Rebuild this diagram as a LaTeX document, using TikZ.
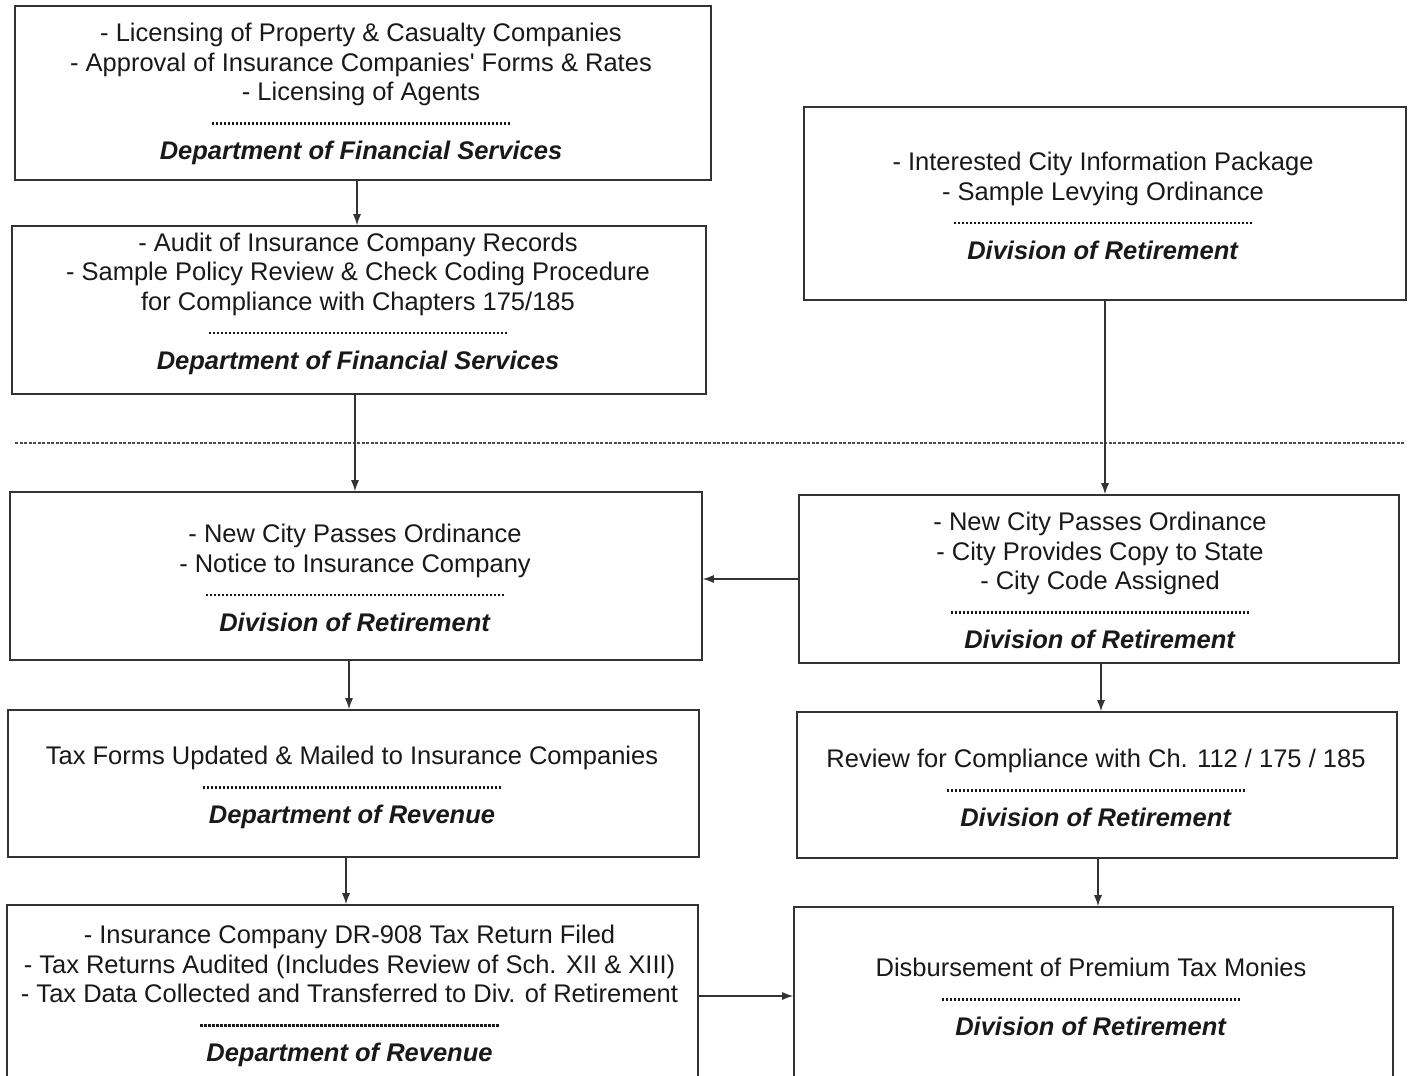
\documentclass[tikz,border=0pt]{standalone}
\usepackage{fontspec}
\setmainfont{Liberation Sans}[Ligatures=TeXOff]
\usetikzlibrary{arrows.meta}
\newcommand\mydashes{\leavevmode\hbox to 300pt{\leaders\hbox to 4pt{\hss\rule[5.5pt]{2.8pt}{2.2pt}\hss}\hfill}}
\newcommand\dept[1]{\textbf{\textit{#1}}}
\tikzset{
  box/.style={draw=black!80, line width=1.6pt, rectangle, inner sep=0pt},
  txt/.style={align=center, inner sep=0pt, text=black!90, font=\fontsize{25.5}{29.5}\selectfont},
  arr/.style={draw=black!80, line width=1.3pt, -{Latex[length=11pt,width=8pt]}},
  sep/.style={draw=black!70, line width=1.3pt, dash pattern=on 3pt off 1.5pt}
}
\begin{document}
\begin{tikzpicture}[x=1pt,y=-1pt]
\clip (0,0) rectangle (1408,1076);
\fill[white] (0,0) rectangle (1408,1076);

% boxes
\node[box, minimum width=696pt, minimum height=174pt] (a) at (363,93) {};
\node[box, minimum width=694pt, minimum height=168pt] (b) at (359,310) {};
\node[box, minimum width=602pt, minimum height=193pt] (c) at (1105,203.5) {};
\node[box, minimum width=692pt, minimum height=168pt] (d) at (356,576) {};
\node[box, minimum width=600pt, minimum height=168pt] (e) at (1099,579) {};
\node[box, minimum width=691pt, minimum height=147pt] (f) at (353.5,783.5) {};
\node[box, minimum width=600pt, minimum height=146pt] (g) at (1097,785) {};
\node[box, minimum width=691pt, minimum height=178pt] (h) at (352.5,994) {};
\node[box, minimum width=599pt, minimum height=176pt] (i) at (1093.5,995) {};

% texts
\node[txt] (at) at (361,94) {- Licensing of Property \& Casualty Companies\\- Approval of Insurance Companies' Forms \& Rates\\- Licensing of Agents\\\mydashes\\\dept{Department of Financial Services}};
\node[txt] (bt) at (358,303.5) {- Audit of Insurance Company Records\\- Sample Policy Review \& Check Coding Procedure\\for Compliance with Chapters 175/185\\\mydashes\\\dept{Department of Financial Services}};
\node[txt] (ct) at (1103,206) {- Interested City Information Package\\- Sample Levying Ordinance\\\mydashes\\\dept{Division of Retirement}};
\node[txt] (dt) at (355,578) {- New City Passes Ordinance\\- Notice to Insurance Company\\\mydashes\\\dept{Division of Retirement}};
\node[txt] (et) at (1100,580.5) {- New City Passes Ordinance\\- City Provides Copy to State\\- City Code Assigned\\\mydashes\\\dept{Division of Retirement}};
\node[txt] (ft) at (352,787.5) {Tax Forms Updated \& Mailed to Insurance Companies\\\mydashes\\\dept{Department of Revenue}};
\node[txt] (gt) at (1096,788) {Review for Compliance with Ch. 112 / 175 / 185\\\mydashes\\\dept{Division of Retirement}};
\node[txt] (ht) at (349.5,996) {- Insurance Company DR-908 Tax Return Filed\\- Tax Returns Audited (Includes Review of Sch. XII \& XIII)\\- Tax Data Collected and Transferred to Div. of Retirement\\\mydashes\\\dept{Department of Revenue}};
\node[txt] (it) at (1091,997) {Disbursement of Premium Tax Monies\\\mydashes\\\dept{Division of Retirement}};

% separator
\coordinate (s1) at (15,443);
\coordinate (s2) at (1405,443);
\draw[sep] (s1) -- (s2);

% connectors
\draw[arr] ([xshift=-6pt]a.south) -- ([xshift=-2pt]b.north);
\draw[arr] ([xshift=-4pt]b.south) -- ([xshift=-1pt]d.north);
\draw[arr] (c.south) -- ([xshift=6pt]e.north);
\draw[arr] (e.west) -- (e.west -| d.east);
\draw[arr] ([xshift=-7pt]d.south) -- ([xshift=-4.5pt]f.north);
\draw[arr] ([xshift=2pt]e.south) -- ([xshift=4pt]g.north);
\draw[arr] ([xshift=-7.5pt]f.south) -- ([xshift=-6.5pt]h.north);
\draw[arr] ([xshift=1pt]g.south) -- ([xshift=4.5pt]i.north);
\draw[arr] ([yshift=-2pt]h.east) -- ([yshift=-2pt]h.east -| i.west);
\end{tikzpicture}
\end{document}
